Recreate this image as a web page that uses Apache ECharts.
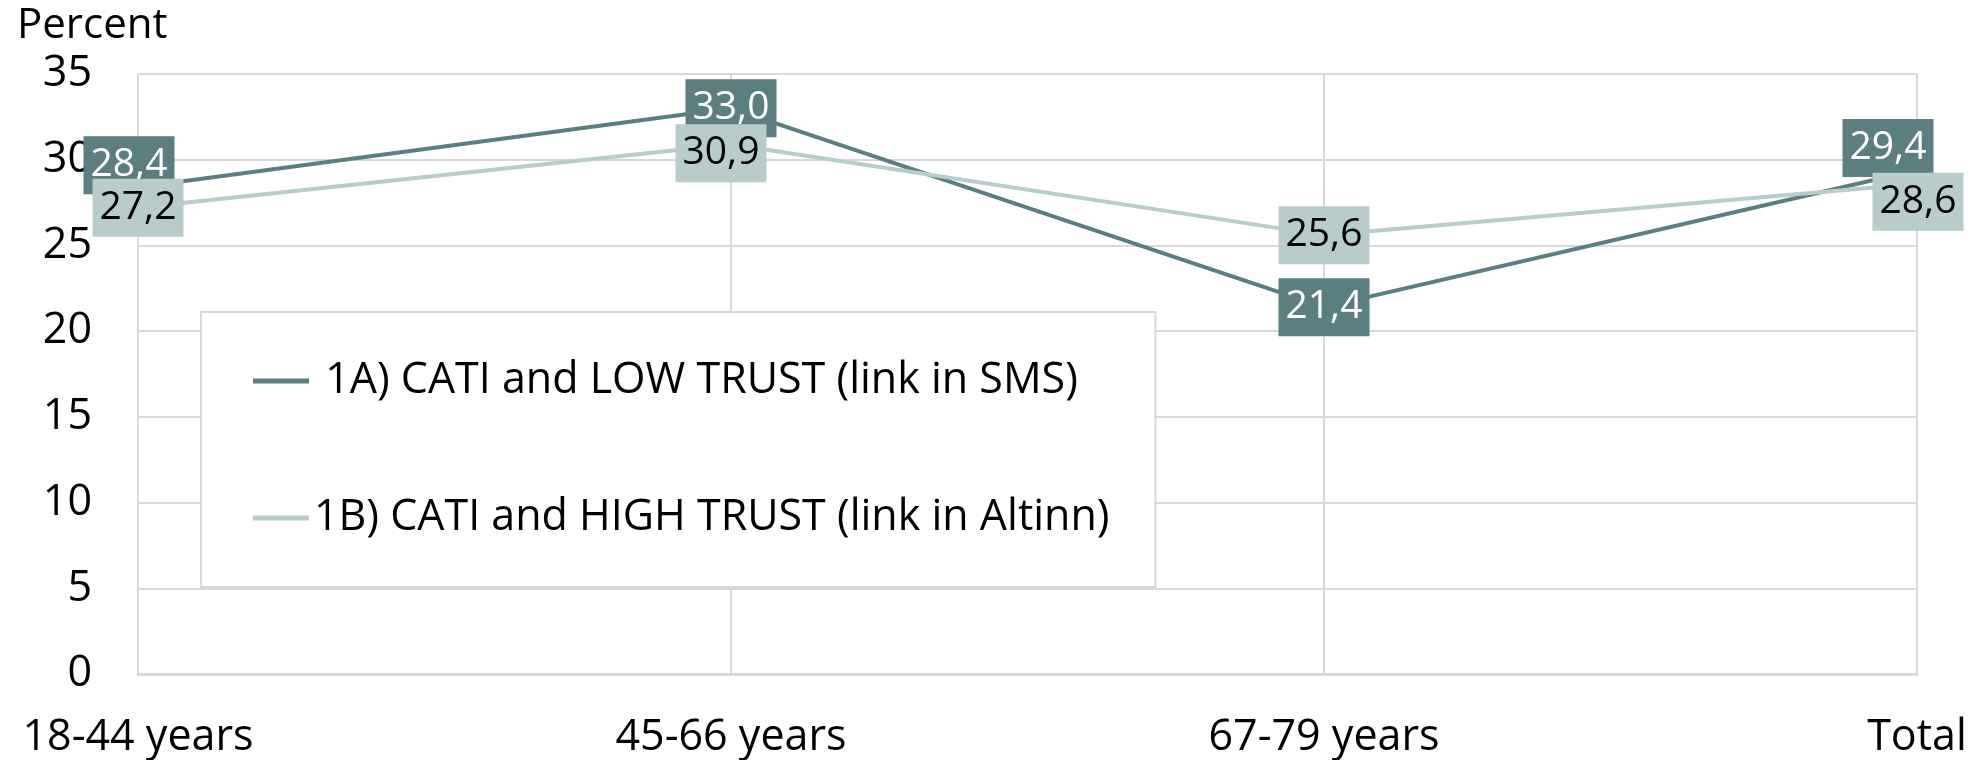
<!DOCTYPE html>
<html>
<head>
<meta charset="utf-8">
<script src="https://cdn.jsdelivr.net/npm/echarts@6/dist/echarts.min.js"></script>
<style>
  html, body { margin: 0; padding: 0; background: #fff; }
  #chart { width: 1980px; height: 760px; }
</style>
</head>
<body>
<div id="chart"></div>
<script>
// data
var categories = ['18-44 years', '45-66 years', '67-79 years', 'Total'];
var lowTrust = [28.4, 33.0, 21.4, 29.4];
var highTrust = [27.2, 30.9, 25.6, 28.6];
var yTicks = [0, 5, 10, 15, 20, 25, 30, 35];

var darkCol = '#5b7e80';
var lightCol = '#b8cccc';
var gridCol = '#d9d9d9';
var font = 'Open Sans';

// label nudges (px) so the boxes don't sit exactly on each other
var lowShift = [[-9, -22], [0, 0], [0, 0], [-29, -22]];
var highShift = [[0, 0], [-10, 9], [0, 0], [1, 18]];

function fmt(v) { return v.toFixed(1).replace('.', ','); }

function makeData(vals, shifts) {
  return vals.map(function (v, i) {
    return { value: v, label: { offset: shifts[i] } };
  });
}

var myChart = echarts.init(document.getElementById('chart'));
var option = {
  backgroundColor: '#fff',
  animation: false,
  textStyle: { fontFamily: font },
  title: {
    text: 'Percent',
    left: 12, top: 0,
    textStyle: { fontFamily: font, fontSize: 42, fontWeight: 'normal', color: '#000' }
  },
  grid: { left: 138, right: 63, top: 74, bottom: 86 },
  legend: {
    orient: 'vertical',
    left: 201, top: 312,
    padding: [44, 46, 44, 52],
    itemGap: 87,
    itemWidth: 56, itemHeight: 5,
    icon: 'rect',
    backgroundColor: '#fff',
    borderColor: gridCol, borderWidth: 2,
    textStyle: { fontFamily: font, fontSize: 43, color: '#000', lineHeight: 50 },
    formatter: function (name) { return name.indexOf('1A') === 0 ? ' ' + name : name; },
    data: ['1A) CATI and LOW TRUST (link in SMS)', '1B) CATI and HIGH TRUST (link in Altinn)']
  },
  xAxis: {
    type: 'category',
    boundaryGap: false,
    data: categories,
    axisLine: { show: true, lineStyle: { color: gridCol, width: 3 } },
    axisTick: { show: false },
    axisLabel: { fontFamily: font, fontSize: 43, color: '#000', margin: 42 },
    splitLine: { show: true, lineStyle: { color: gridCol, width: 2 } }
  },
  yAxis: {
    type: 'value',
    min: yTicks[0], max: yTicks[yTicks.length - 1], interval: yTicks[1] - yTicks[0],
    axisLine: { show: false },
    axisTick: { show: false },
    axisLabel: { fontFamily: font, fontSize: 43, color: '#000', margin: 46 },
    splitLine: { show: true, lineStyle: { color: gridCol, width: 2 } }
  },
  series: [
    {
      name: '1A) CATI and LOW TRUST (link in SMS)',
      type: 'line',
      z: 2,
      symbol: 'circle', symbolSize: 0, showSymbol: true,
      lineStyle: { color: darkCol, width: 4 },
      itemStyle: { color: darkCol },
      label: {
        show: true, position: 'inside',
        formatter: function (p) { return fmt(p.value); },
        backgroundColor: darkCol, color: '#fff',
        fontFamily: font, fontSize: 39, lineHeight: 48, padding: [5, 7]
      },
      data: makeData(lowTrust, lowShift)
    },
    {
      name: '1B) CATI and HIGH TRUST (link in Altinn)',
      type: 'line',
      z: 3,
      symbol: 'circle', symbolSize: 0, showSymbol: true,
      lineStyle: { color: lightCol, width: 4 },
      itemStyle: { color: lightCol },
      label: {
        show: true, position: 'inside',
        formatter: function (p) { return fmt(p.value); },
        backgroundColor: lightCol, color: '#000',
        fontFamily: font, fontSize: 39, lineHeight: 48, padding: [5, 7]
      },
      data: makeData(highTrust, highShift)
    }
  ]
};
myChart.setOption(option);
</script>
</body>
</html>
